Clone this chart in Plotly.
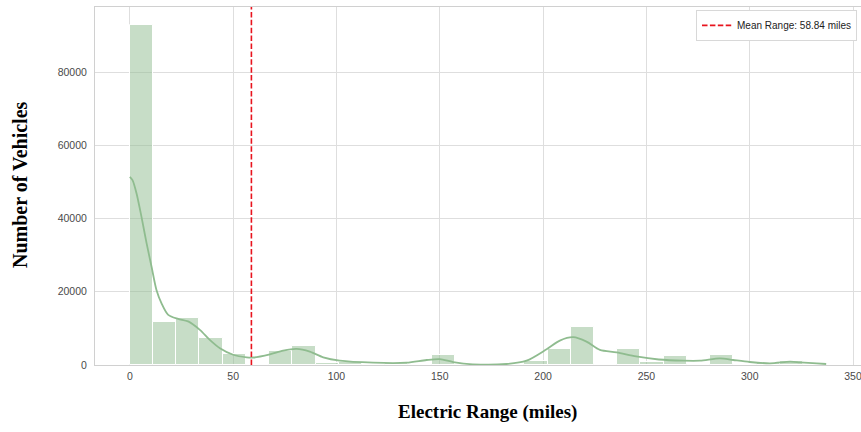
import numpy as np
import plotly.graph_objects as go

# ---- data ----
BIN_START = 0.0
BIN_END = 337.0
counts = [93000, 11700, 12800, 7300, 3000, 0, 3900, 5200, 650, 700,
          270, 450, 270, 2700, 100, 50, 150, 1000, 4500, 10400,
          200, 4300, 780, 2400, 150, 2700, 270, 450, 1200, 300]

kde_x = [0, 1.3, 3.2, 5.6, 8.1, 10.5, 12.9, 15.3, 18.6, 23.4, 28.2, 33.9, 38.7,
         43.6, 50, 56.5, 60, 67.8, 74.2, 80.7, 87.1, 93.6, 101.6, 117.8, 133.9,
         143.6, 150, 156.5, 166, 182.3, 192, 201.7, 208.1, 214.6, 221, 227.5,
         235.6, 245, 256, 267.8, 275.9, 285.6, 292, 300, 309.8, 319.5, 324.3,
         332.4, 337]
kde_y = [51400, 50500, 47000, 40600, 33300, 26900, 20500, 16900, 13700, 12600,
         11900, 9600, 6850, 4570, 2800, 2100, 2050, 2900, 3900, 4380, 3640, 2100,
         1180, 630, 630, 1370, 1600, 800, 190, 270, 1180, 4300, 6660, 7590, 6380,
         4110, 3470, 2350, 1500, 1180, 1180, 1830, 1370, 820, 460, 900, 740, 460,
         270]

mean_range = 58.84
x_ticks = [0, 50, 100, 150, 200, 250, 300, 350]
y_ticks = [0, 20000, 40000, 60000, 80000]

# ---- build ----
n = len(counts)
edges = np.linspace(BIN_START, BIN_END, n + 1)
centers = (edges[:-1] + edges[1:]) / 2
width = edges[1] - edges[0]

fig = go.Figure()
fig.add_trace(go.Bar(
    x=centers, y=counts, width=[width] * n,
    marker=dict(color="rgba(143,188,143,0.5)", line=dict(color="white", width=1)),
    showlegend=False, hoverinfo="skip"))
fig.add_trace(go.Scatter(
    x=kde_x, y=kde_y, mode="lines",
    line=dict(color="#8fbc8f", width=1.8, shape="spline", smoothing=0.8),
    showlegend=False, hoverinfo="skip"))
ymax = 97800
fig.add_trace(go.Scatter(
    x=[mean_range, mean_range], y=[0, ymax], mode="lines",
    line=dict(color="#e8141e", width=1.6, dash="5.5px,2.4px"),
    name=f"Mean Range: {mean_range} miles"))

tick_font = dict(family="Liberation Sans, Arial", size=10.5, color="#4a4a4a")
axis_common = dict(
    showgrid=True, gridcolor="#dedede", gridwidth=1,
    showline=True, linecolor="#d0d0d0", linewidth=1, mirror=True,
    zeroline=False, ticks="",
    tickfont=tick_font,
    ticklabeloverflow="allow",
)
fig.update_xaxes(range=[-16.85, 353.85], tickvals=x_ticks,
                 ticklabelstandoff=1, **axis_common)
fig.update_yaxes(range=[0, ymax], tickvals=y_ticks, tickformat="d",
                 ticklabelstandoff=5, **axis_common)

fig.update_layout(
    template="none",
    width=861, height=432,
    font=dict(family="Liberation Sans, Arial", color="#4a4a4a"),
    margin=dict(l=95, r=0, t=7, b=67),
    plot_bgcolor="white", paper_bgcolor="white",
    bargap=0,
    legend=dict(x=0.9948, y=0.992, xanchor="right", yanchor="top",
                bgcolor="white", bordercolor="#d8d8d8", borderwidth=1,
                font=dict(family="Liberation Sans, Arial", size=10, color="#222222"),
                itemwidth=30),
    annotations=[
        dict(text="<b>Electric Range (miles)</b>", xref="paper", yref="paper",
             x=(487 - 95) / 766, y=-47 / 358, xanchor="center", yanchor="middle",
             showarrow=False,
             font=dict(family="Liberation Serif, Times New Roman", size=19, color="black")),
        dict(text="<b>Number of Vehicles</b>", xref="paper", yref="paper",
             x=(20 - 95) / 766, y=(365 - 185) / 358, xanchor="center", yanchor="middle",
             textangle=-90, showarrow=False,
             font=dict(family="Liberation Serif, Times New Roman", size=20, color="black")),
    ],
)

fig.write_html("out.html")
